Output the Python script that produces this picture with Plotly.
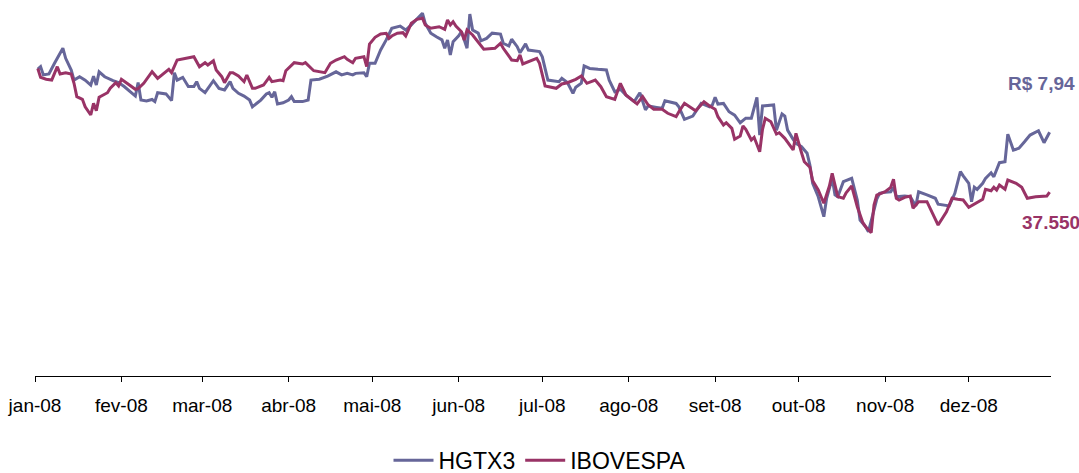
import plotly.graph_objects as go

# ---------------- data ----------------
hgtx3_dates = [
    "2008-01-02", "2008-01-03", "2008-01-04", "2008-01-06", "2008-01-08", "2008-01-11", "2008-01-12",
    "2008-01-14", "2008-01-15", "2008-01-17", "2008-01-19", "2008-01-21", "2008-01-22", "2008-01-23",
    "2008-01-24", "2008-01-26", "2008-01-29", "2008-01-31", "2008-02-02", "2008-02-04", "2008-02-06",
    "2008-02-07", "2008-02-08", "2008-02-10", "2008-02-12", "2008-02-13", "2008-02-14", "2008-02-17",
    "2008-02-19", "2008-02-20", "2008-02-21", "2008-02-23", "2008-02-25", "2008-02-27", "2008-02-28",
    "2008-02-29", "2008-03-02", "2008-03-05", "2008-03-07", "2008-03-09", "2008-03-11", "2008-03-12",
    "2008-03-14", "2008-03-16", "2008-03-18", "2008-03-19", "2008-03-22", "2008-03-24", "2008-03-25",
    "2008-03-26", "2008-03-27", "2008-03-28", "2008-03-30", "2008-04-01", "2008-04-02", "2008-04-03",
    "2008-04-06", "2008-04-08", "2008-04-09", "2008-04-12", "2008-04-15", "2008-04-18", "2008-04-20",
    "2008-04-22", "2008-04-24", "2008-04-25", "2008-04-28", "2008-04-29", "2008-04-30", "2008-05-02",
    "2008-05-04", "2008-05-06", "2008-05-08", "2008-05-11", "2008-05-13", "2008-05-15", "2008-05-17",
    "2008-05-19", "2008-05-20", "2008-05-22", "2008-05-24", "2008-05-26", "2008-05-27", "2008-05-28",
    "2008-05-29", "2008-05-30", "2008-06-01", "2008-06-02", "2008-06-04", "2008-06-05", "2008-06-06",
    "2008-06-08", "2008-06-09", "2008-06-11", "2008-06-13", "2008-06-16", "2008-06-17", "2008-06-19",
    "2008-06-20", "2008-06-22", "2008-06-23", "2008-06-25", "2008-06-26", "2008-06-28", "2008-06-30",
    "2008-07-01", "2008-07-02", "2008-07-03", "2008-07-07", "2008-07-08", "2008-07-10", "2008-07-12",
    "2008-07-13", "2008-07-15", "2008-07-16", "2008-07-18", "2008-07-21", "2008-07-24", "2008-07-25",
    "2008-07-27", "2008-07-29", "2008-07-31", "2008-08-03", "2008-08-05", "2008-08-07", "2008-08-08",
    "2008-08-11", "2008-08-13", "2008-08-14", "2008-08-18", "2008-08-19", "2008-08-21", "2008-08-24",
    "2008-08-26", "2008-08-27", "2008-08-30", "2008-08-31", "2008-09-01", "2008-09-02", "2008-09-04",
    "2008-09-06", "2008-09-08", "2008-09-10", "2008-09-12", "2008-09-14", "2008-09-16", "2008-09-17",
    "2008-09-18", "2008-09-22", "2008-09-23", "2008-09-25", "2008-09-26", "2008-09-27", "2008-09-29",
    "2008-09-30", "2008-10-02", "2008-10-04", "2008-10-05", "2008-10-06", "2008-10-08", "2008-10-10",
    "2008-10-11", "2008-10-13", "2008-10-14", "2008-10-15", "2008-10-17", "2008-10-20", "2008-10-22",
    "2008-10-23", "2008-10-25", "2008-10-26", "2008-10-29", "2008-10-30", "2008-11-01", "2008-11-03",
    "2008-11-04", "2008-11-05", "2008-11-08", "2008-11-10", "2008-11-12", "2008-11-13", "2008-11-16",
    "2008-11-19", "2008-11-20", "2008-11-23", "2008-11-24", "2008-11-26", "2008-11-28", "2008-11-29",
    "2008-12-01", "2008-12-02", "2008-12-03", "2008-12-04", "2008-12-06", "2008-12-07", "2008-12-09",
    "2008-12-10", "2008-12-12", "2008-12-14", "2008-12-15", "2008-12-17", "2008-12-19", "2008-12-21",
    "2008-12-23", "2008-12-26", "2008-12-27", "2008-12-28", "2008-12-30",
]
hgtx3_values = [
    10.00, 10.08, 9.81, 9.84, 10.19, 10.68, 10.35,
    9.97, 9.64, 9.75, 9.64, 9.48, 9.77, 9.48,
    9.91, 9.75, 9.62, 9.56, 9.43, 9.26, 9.12,
    9.56, 8.99, 8.96, 9.01, 8.94, 9.23, 9.19,
    8.97, 9.88, 9.64, 9.73, 9.43, 9.43, 9.59,
    9.37, 9.23, 9.62, 9.37, 9.32, 9.59, 9.37,
    9.21, 9.12, 8.99, 8.77, 8.99, 9.19, 9.23,
    9.08, 9.26, 8.86, 8.90, 8.99, 9.10, 8.94,
    8.94, 8.99, 9.64, 9.67, 9.77, 9.91, 9.81,
    9.86, 9.81, 9.86, 9.88, 9.75, 10.19, 10.19,
    10.62, 10.95, 11.33, 11.40, 11.27, 11.44, 11.62,
    11.82, 11.49, 11.17, 11.05, 10.95, 10.68, 10.95,
    10.46, 10.89, 11.08, 11.22, 10.68, 11.79, 11.27,
    11.17, 10.92, 11.00, 11.17, 11.14, 10.84, 10.75,
    10.97, 10.73, 10.53, 10.82, 10.62, 10.60, 10.57,
    10.40, 10.02, 9.64, 9.59, 9.70, 9.56, 9.21,
    9.41, 9.54, 10.10, 10.02, 9.99, 9.97, 9.64,
    9.26, 9.34, 9.15, 8.94, 9.23, 8.67, 8.80,
    8.75, 8.72, 8.97, 8.88, 8.77, 8.36, 8.47,
    8.75, 8.88, 8.77, 8.83, 9.08, 8.86, 8.88,
    8.61, 8.50, 8.25, 8.40, 8.40, 9.08, 7.85,
    8.80, 8.83, 8.01, 8.54, 8.47, 8.01, 7.71,
    7.58, 7.47, 7.26, 6.87, 6.28, 5.84, 5.19,
    5.79, 6.44, 5.90, 5.84, 6.33, 6.44, 5.73,
    5.08, 4.86, 4.70, 5.76, 5.95, 5.99, 6.00,
    6.15, 5.84, 5.86, 5.84, 5.54, 6.00, 5.90,
    5.79, 5.60, 5.57, 5.54, 5.95, 6.66, 6.52,
    6.28, 5.68, 6.15, 6.08, 6.28, 6.44, 6.62,
    6.49, 6.95, 6.98, 7.88, 7.36, 7.42, 7.63,
    7.85, 7.99, 7.82, 7.60, 7.94,
]

ibov_dates = [
    "2008-01-02", "2008-01-03", "2008-01-05", "2008-01-07", "2008-01-08", "2008-01-09", "2008-01-10",
    "2008-01-12", "2008-01-14", "2008-01-15", "2008-01-16", "2008-01-18", "2008-01-19", "2008-01-21",
    "2008-01-22", "2008-01-23", "2008-01-24", "2008-01-27", "2008-01-28", "2008-01-30", "2008-01-31",
    "2008-02-01", "2008-02-03", "2008-02-06", "2008-02-07", "2008-02-09", "2008-02-12", "2008-02-14",
    "2008-02-18", "2008-02-19", "2008-02-21", "2008-02-24", "2008-02-27", "2008-02-29", "2008-03-02",
    "2008-03-03", "2008-03-05", "2008-03-06", "2008-03-08", "2008-03-09", "2008-03-11", "2008-03-12",
    "2008-03-14", "2008-03-16", "2008-03-17", "2008-03-19", "2008-03-20", "2008-03-23", "2008-03-25",
    "2008-03-26", "2008-03-29", "2008-03-30", "2008-03-31", "2008-04-03", "2008-04-06", "2008-04-07",
    "2008-04-10", "2008-04-14", "2008-04-16", "2008-04-18", "2008-04-21", "2008-04-22", "2008-04-24",
    "2008-04-25", "2008-04-28", "2008-04-29", "2008-04-30", "2008-05-02", "2008-05-04", "2008-05-06",
    "2008-05-07", "2008-05-08", "2008-05-10", "2008-05-12", "2008-05-13", "2008-05-15", "2008-05-17",
    "2008-05-19", "2008-05-20", "2008-05-22", "2008-05-25", "2008-05-27", "2008-05-28", "2008-05-29",
    "2008-05-30", "2008-05-31", "2008-06-02", "2008-06-03", "2008-06-04", "2008-06-06", "2008-06-07",
    "2008-06-10", "2008-06-14", "2008-06-16", "2008-06-17", "2008-06-20", "2008-06-22", "2008-06-23",
    "2008-06-24", "2008-06-26", "2008-06-29", "2008-06-30", "2008-07-02", "2008-07-06", "2008-07-08",
    "2008-07-10", "2008-07-13", "2008-07-15", "2008-07-17", "2008-07-20", "2008-07-22", "2008-07-24",
    "2008-07-27", "2008-07-29", "2008-07-31", "2008-08-04", "2008-08-06", "2008-08-08", "2008-08-10",
    "2008-08-13", "2008-08-15", "2008-08-18", "2008-08-19", "2008-08-21", "2008-08-25", "2008-08-28",
    "2008-08-30", "2008-09-01", "2008-09-02", "2008-09-04", "2008-09-05", "2008-09-07", "2008-09-08",
    "2008-09-10", "2008-09-11", "2008-09-12", "2008-09-14", "2008-09-15", "2008-09-17", "2008-09-18",
    "2008-09-19", "2008-09-21", "2008-09-23", "2008-09-24", "2008-09-26", "2008-09-29", "2008-09-30",
    "2008-10-02", "2008-10-03", "2008-10-05", "2008-10-06", "2008-10-08", "2008-10-10", "2008-10-12",
    "2008-10-13", "2008-10-15", "2008-10-17", "2008-10-18", "2008-10-20", "2008-10-22", "2008-10-24",
    "2008-10-25", "2008-10-27", "2008-10-28", "2008-10-29", "2008-11-01", "2008-11-03", "2008-11-04",
    "2008-11-05", "2008-11-06", "2008-11-08", "2008-11-10", "2008-11-11", "2008-11-13", "2008-11-16",
    "2008-11-18", "2008-11-20", "2008-11-23", "2008-11-25", "2008-11-27", "2008-11-29", "2008-12-01",
    "2008-12-04", "2008-12-06", "2008-12-07", "2008-12-09", "2008-12-10", "2008-12-11", "2008-12-12",
    "2008-12-14", "2008-12-15", "2008-12-18", "2008-12-20", "2008-12-22", "2008-12-25", "2008-12-27",
    "2008-12-29", "2008-12-30",
]
ibov_values = [
    62760, 60960, 60560, 60410, 61780, 63130, 61640,
    61900, 61640, 59740, 57010, 56470, 54960, 53270,
    55660, 54150, 56880, 57820, 58720, 59860, 59190,
    60560, 59740, 58520, 58640, 59740, 62110, 60760,
    62600, 61900, 64500, 64840, 65170, 63130, 63950,
    63480, 64350, 62450, 61090, 59860, 61900, 61900,
    61230, 60070, 61430, 58720, 58720, 59390, 60960,
    60070, 60410, 60270, 62310, 63950, 63680, 63950,
    62310, 61900, 63820, 64500, 65170, 64640, 63950,
    64840, 65170, 63130, 67760, 69130, 69800, 69950,
    68920, 69390, 69950, 70070, 69390, 71990, 72800,
    73010, 71640, 70970, 71290, 70760, 72660, 71640,
    72310, 71440, 70270, 68580, 70620, 69600, 68920,
    66680, 66880, 67900, 66880, 64500, 64350, 65520,
    63680, 64150, 64840, 63820, 59190, 58720, 59600,
    59860, 60560, 61230, 59740, 60410, 59050, 57010,
    56470, 59740, 57350, 55520, 57010, 55310, 54430,
    54430, 53620, 52920, 53940, 55660, 54150, 55990,
    55110, 54430, 52920, 51230, 51700, 50550, 48310,
    48980, 51030, 50350, 48170, 48720, 45780, 50350,
    52600, 51900, 49390, 49660, 48510, 46130, 49530,
    45570, 43740, 42600, 39860, 37960, 35250, 38780,
    41370, 36600, 36270, 37410, 38780, 34550, 31290,
    30470, 29250, 34900, 36940, 37620, 38510, 40150,
    36270, 35920, 36470, 36740, 34230, 35570, 35570,
    33210, 30820, 33530, 36270, 36060, 35920, 34430,
    35370, 36060, 38110, 37820, 38510, 37960, 38980,
    38110, 40000, 39330, 38510, 36270, 36600, 36740,
    36740, 37550,
]

series_names = ["HGTX3", "IBOVESPA"]
month_ticks = ["2008-01-01", "2008-02-01", "2008-03-01", "2008-04-01", "2008-05-01", "2008-06-01",
               "2008-07-01", "2008-08-01", "2008-09-01", "2008-10-01", "2008-11-01", "2008-12-01"]
month_labels = ["jan-08", "fev-08", "mar-08", "abr-08", "mai-08", "jun-08",
                "jul-08", "ago-08", "set-08", "out-08", "nov-08", "dez-08"]

# ---------------- styling ----------------
BLUE = "#666699"
PLUM = "#993366"
FONT = "Liberation Sans, Arial, sans-serif"

fig = go.Figure()
fig.add_trace(go.Scatter(x=hgtx3_dates, y=hgtx3_values, name=series_names[0], mode="lines",
                         line=dict(color=BLUE, width=3), yaxis="y"))
fig.add_trace(go.Scatter(x=ibov_dates, y=ibov_values, name=series_names[1], mode="lines",
                         line=dict(color=PLUM, width=3), yaxis="y2"))

last_h = hgtx3_values[-1]
last_i = ibov_values[-1]
fig.add_annotation(x=hgtx3_dates[-1], y=last_h, xref="x", yref="y",
                   text="<b>R$ " + f"{last_h:.2f}".replace(".", ",") + "</b>",
                   showarrow=False, xanchor="center", yanchor="middle", xshift=-8, yshift=49,
                   font=dict(family=FONT, size=19, color=BLUE))
fig.add_annotation(x=ibov_dates[-1], y=last_i, xref="x", yref="y2",
                   text="<b>" + f"{last_i:,}".replace(",", ".") + "</b>",
                   showarrow=False, xanchor="center", yanchor="middle", xshift=1, yshift=-30,
                   font=dict(family=FONT, size=19, color=PLUM))

fig.update_layout(
    width=1079, height=473,
    margin=dict(l=35, r=28, t=10, b=97, autoexpand=False),
    paper_bgcolor="white", plot_bgcolor="white",
    font=dict(family=FONT, color="#000000"),
    showlegend=True,
    legend=dict(orientation="h", x=0.5, xanchor="center", xref="container",
                y=0.027, yanchor="middle", yref="container",
                font=dict(family=FONT, size=23, color="#000000"), itemwidth=40,
                bgcolor="rgba(0,0,0,0)"),
    xaxis=dict(type="date", range=["2008-01-01", "2008-12-30 12:00"],
               tickvals=month_ticks, ticktext=month_labels,
               showline=True, linecolor="#000000", linewidth=1,
               ticks="outside", ticklen=5, tickcolor="#000000", tickwidth=1,
               ticklabelstandoff=7,
               showgrid=False, zeroline=False, automargin=False,
               tickfont=dict(family=FONT, size=19, color="#000000")),
    yaxis=dict(range=[0, 11.924], visible=False, showgrid=False, zeroline=False),
    yaxis2=dict(range=[0, 74700], visible=False, showgrid=False, zeroline=False,
                overlaying="y", side="right"),
)

fig.write_html("out.html", config={"displayModeBar": False},
               post_script="document.body.style.margin='0';document.body.style.overflow='hidden';")
